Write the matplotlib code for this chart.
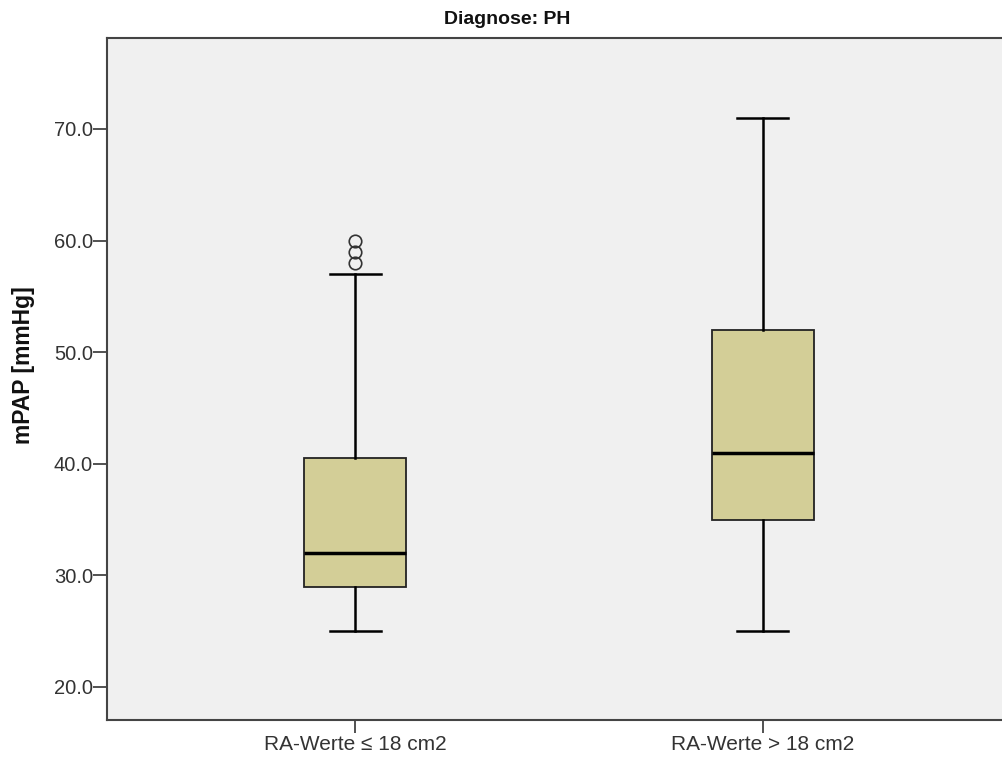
import matplotlib
matplotlib.use("Agg")
import matplotlib.pyplot as plt

plt.rcParams['font.family'] = ['Liberation Sans', 'DejaVu Sans']

categories = ["RA-Werte ≤ 18 cm2", "RA-Werte > 18 cm2"]
whislo = [25, 25]
q1 = [29, 35]
med = [32, 41]
q3 = [40.5, 52]
whishi = [57, 71]
fliers = [[58, 59, 60], []]
yticks = [20, 30, 40, 50, 60, 70]

W, H = 1002, 758
fig = plt.figure(figsize=(W / 100, H / 100), dpi=100)
# axes extends slightly beyond the right edge of the figure
ax = fig.add_axes([107 / W, 1 - 720 / H, (1011 - 107) / W, (720 - 38) / H])
ax.set_facecolor('#F0F0F0')

stats = []
for i, c in enumerate(categories):
    stats.append(dict(label=c, whislo=whislo[i], q1=q1[i], med=med[i],
                      q3=q3[i], whishi=whishi[i], fliers=fliers[i]))

ax.bxp(stats, positions=[1, 2], widths=0.25, patch_artist=True,
       boxprops=dict(facecolor='#D3CE97', edgecolor='#222222', linewidth=1.3),
       medianprops=dict(color='black', linewidth=2.5),
       whiskerprops=dict(color='black', linewidth=1.8),
       capprops=dict(color='black', linewidth=1.8),
       capwidths=0.125,
       flierprops=dict(marker='o', markerfacecolor='none', markeredgecolor='#333333',
                       markersize=9, markeredgewidth=1.2))

ax.set_xlim(0.392, 2.608)
ax.set_ylim(17.04, 78.15)
ax.set_yticks(yticks)
ax.set_yticklabels([f"{v:.1f}" for v in yticks])
ax.set_xticks([1, 2])
ax.set_xticklabels(categories)
ax.tick_params(axis='y', labelsize=14.5, colors='#333333', length=10, width=1.2, pad=0)
ax.tick_params(axis='x', labelsize=15, colors='#333333', length=9.5, width=1.2, pad=1)
for s in ax.spines.values():
    s.set_color('#444444')
    s.set_linewidth(1.5)

fig.text(24 / W, 1 - 365 / H, 'mPAP [mmHg]', rotation=90, fontsize=16.5,
         fontweight='bold', ha='center', va='center', color='#111111')
fig.text(507 / W, 1 - 20 / H, 'Diagnose: PH', fontsize=14, fontweight='bold',
         ha='center', va='center', color='#111111')

fig.savefig('out.png', dpi=100)
